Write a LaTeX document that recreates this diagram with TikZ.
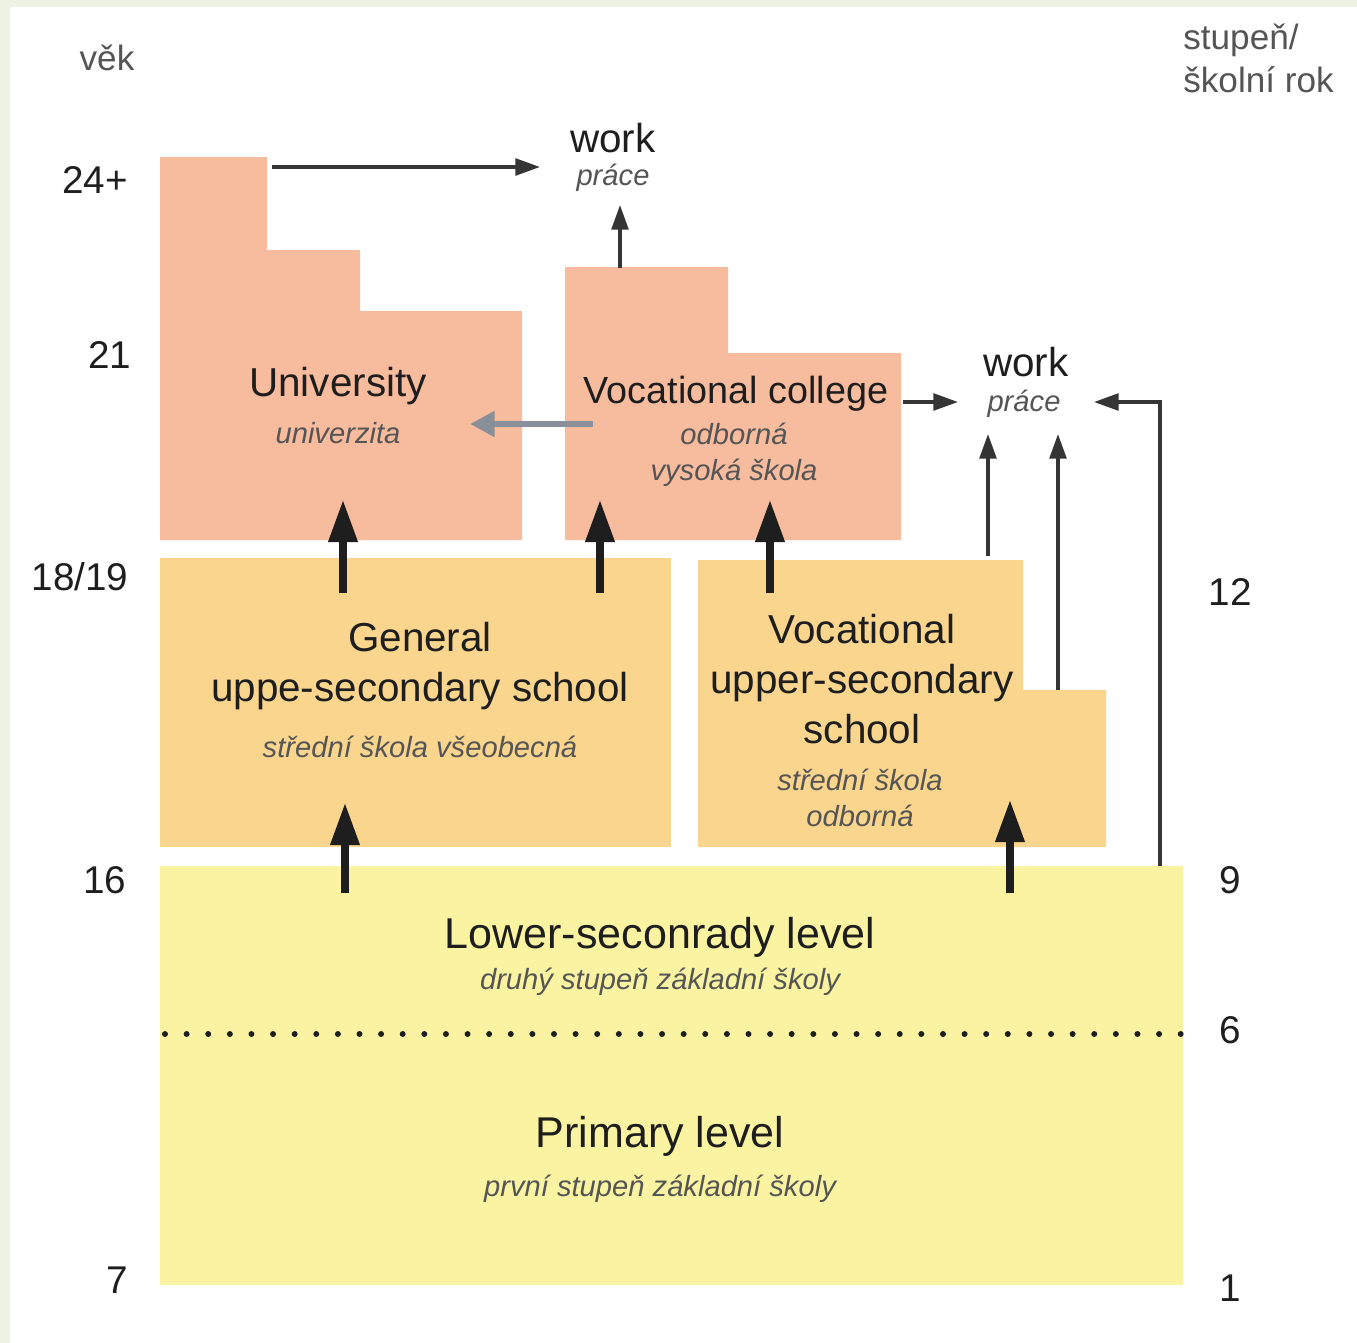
\documentclass[tikz,border=0pt]{standalone}
\usepackage{fontspec}
\setmainfont{Liberation Sans}
\usetikzlibrary{arrows.meta}
\definecolor{salmon}{HTML}{F7BB9E}
\definecolor{apricot}{HTML}{F9D58E}
\definecolor{lemon}{HTML}{FAF4A2}
\definecolor{strip}{HTML}{EEF2E3}
\definecolor{ink}{HTML}{1E1E1E}
\definecolor{subgray}{HTML}{555555}
\definecolor{arrgray}{HTML}{8A9099}
\begin{document}
\begin{tikzpicture}[x=0.02cm,y=-0.02cm]
\tikzstyle{main}= [text=ink,font=\fontsize{23}{28.3}\selectfont,align=center,inner sep=0pt]
\tikzstyle{mainL}= [text=ink,font=\fontsize{24.5}{29}\selectfont,inner sep=0pt]
\tikzstyle{sub}= [text=subgray,font=\fontsize{16.6}{20.4}\selectfont\itshape,align=center,inner sep=0pt]
\tikzstyle{num}= [text=ink,font=\fontsize{22}{26}\selectfont,inner sep=0pt]
\tikzstyle{head}= [text=subgray,font=\fontsize{20}{24}\selectfont,inner sep=0pt]
\tikzstyle{bigarr}= [-{Triangle[length=24pt,width=16pt]},line width=4pt,draw=ink]
\tikzstyle{thinarr}= [-{Triangle[length=14pt,width=9.5pt]},line width=2pt,draw=ink!90]
\tikzstyle{grayarr}= [-{Triangle[length=14pt,width=14pt]},line width=3.4pt,draw=arrgray]
\useasboundingbox (0,0) rectangle (1357,1343);
\fill[white] (0,0) rectangle (1357,1343);
\fill[strip] (0,0) rectangle (1357,7);
\fill[strip] (0,0) rectangle (10,1343);
% blocks
\fill[salmon] (160,157) -- (267,157) -- (267,250) -- (360,250) -- (360,311)
	-- (522,311) -- (522,540) -- (160,540) -- cycle;
\fill[salmon] (565,267) -- (728,267) -- (728,353) -- (901,353) -- (901,540)
	-- (565,540) -- cycle;
\fill[apricot] (160,558) rectangle (671,847);
\fill[apricot] (698,560) -- (1023,560) -- (1023,690) -- (1106,690) -- (1106,847)
	-- (698,847) -- cycle;
\fill[lemon] (160,866) rectangle (1183,1285);
\draw[ink,line width=3.4pt,line cap=round,dash pattern=on 0pt off 12.3pt]
	(165,1034) -- (1183,1034);
% headings and scales
\path
	(107,58) node[head] (vek) {věk}
	(1183,58) node[head,anchor=west,align=left,font=\fontsize{20}{24.5}\selectfont] (rok) {stupeň/\\školní rok}
	(95,180) node[num] (a24) {24+}
	(110,355) node[num] (a21) {21}
	(80,577) node[num] (a18) {18/19}
	(105,880) node[num] (a16) {16}
	(117,1280) node[num] (a7) {7}
	(1230,592) node[num] (g12) {12}
	(1230,880) node[num] (g9) {9}
	(1230,1030) node[num] (g6) {6}
	(1230,1288) node[num] (g1) {1}
;
% labels
\path
	(613,138) node[main] (work) {work}
	(613,178) node[sub] (workcz) {práce}
	(1026,362) node[main] (work2) {work}
	(1024,404) node[sub] (work2cz) {práce}
	(338,386) node[main] (univ) {University}
	(338,433) node[sub] (univcz) {univerzita}
	(736,394) node[main,font=\fontsize{21.5}{26}\selectfont] (vcol) {Vocational college}
	(734,455) node[sub] (vcolcz) {odborná\\vysoká škola}
	(420,666) node[main] (gen) {General\\uppe-secondary school}
	(420,747) node[sub] (gencz) {střední škola všeobecná}
	(862,679) node[main] (vus) {Vocational\\upper-secondary\\school}
	(860,798) node[sub] (vuscz) {střední škola\\odborná}
	(660,937) node[mainL] (low) {Lower-seconrady level}
	(660,982) node[sub] (lowcz) {druhý stupeň základní školy}
	(660,1136) node[mainL] (prim) {Primary level}
	(660,1189) node[sub] (primcz) {první stupeň základní školy}
;
% arrow ends
\coordinate (u0) at (272,167);
\coordinate (u1) at (540,167);
\coordinate (c0) at (620,268);
\coordinate (c1) at (620,205);
\coordinate (c2) at (903,402);
\coordinate (c3) at (958,402);
\coordinate (c4) at (593,424);
\coordinate (c5) at (470,424);
\coordinate (v0) at (988,556);
\coordinate (v1) at (988,434);
\coordinate (v2) at (1058,690);
\coordinate (v3) at (1058,434);
\coordinate (l0) at (1160,866);
\coordinate (l1) at (1160,402);
\coordinate (l2) at (1094,402);
\coordinate (g0) at (343,593);
\coordinate (gu) at (343,500);
\coordinate (g2) at (600,593);
\coordinate (gc) at (600,500);
\coordinate (v4) at (770,593);
\coordinate (vc) at (770,500);
\coordinate (l3) at (345,893);
\coordinate (lg) at (345,803);
\coordinate (l4) at (1010,893);
\coordinate (lv) at (1010,800);
\draw[thinarr] (u0) -- (u1);
\draw[thinarr] (c0) -- (c1);
\draw[thinarr] (c2) -- (c3);
\draw[thinarr] (v0) -- (v1);
\draw[thinarr] (v2) -- (v3);
\draw[thinarr] (l0) -- (l1) -- (l2);
\draw[grayarr] (c4) -- (c5);
\draw[bigarr] (g0) -- (gu);
\draw[bigarr] (g2) -- (gc);
\draw[bigarr] (v4) -- (vc);
\draw[bigarr] (l3) -- (lg);
\draw[bigarr] (l4) -- (lv);
\end{tikzpicture}
\end{document}
